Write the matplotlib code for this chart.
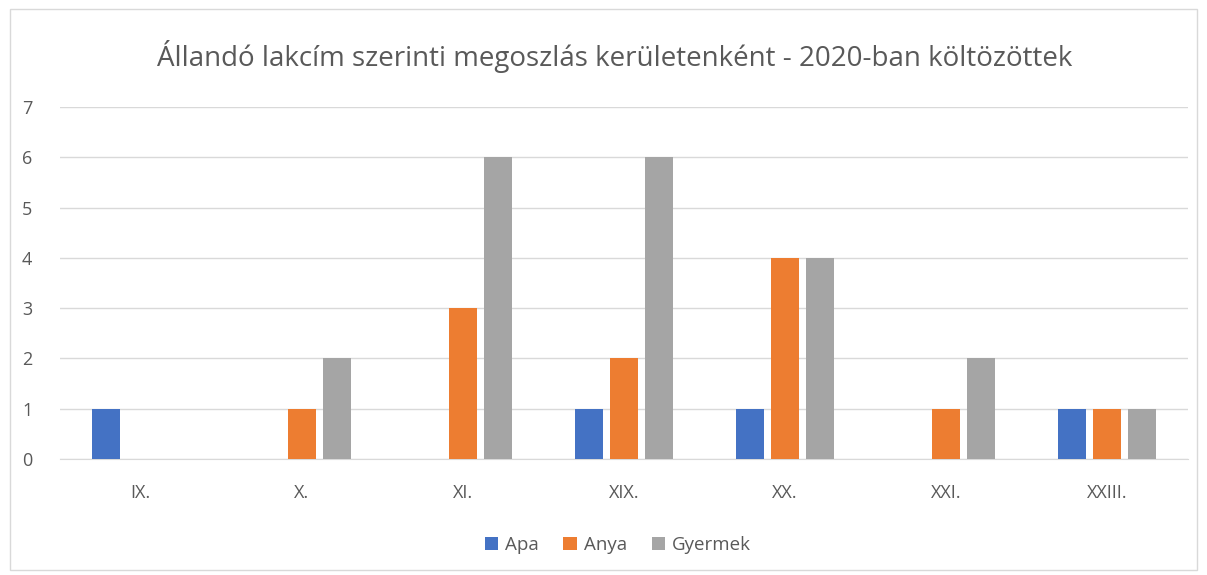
import matplotlib.pyplot as plt
import numpy as np

# datos del grafico
kerulet = ['IX.', 'X.', 'XI.', 'XIX.', 'XX.', 'XXI.', 'XXIII.']
apa = [1, 0, 0, 1, 1, 0, 1]
anya = [0, 1, 3, 2, 4, 1, 1]
gyermek = [0, 2, 6, 6, 4, 2, 1]
series = ['Apa', 'Anya', 'Gyermek']
colores = ['#4472C4', '#ED7D31', '#A5A5A5']

plt.rcParams['font.family'] = ['Open Sans', 'DejaVu Sans']

fig = plt.figure(figsize=(12.07, 5.75), dpi=100)
# marco del grafico
fig.patches.append(plt.Rectangle((0.008, 0.008), 0.984, 0.976, transform=fig.transFigure,
                                 fill=False, edgecolor='#D9D9D9', linewidth=1))
ax = fig.add_axes([0.0497, 0.2017, 0.9343, 0.6123])

x = np.arange(len(kerulet))
ancho = 0.174
paso = 0.217
for i, (vals, nombre, col) in enumerate(zip([apa, anya, gyermek], series, colores)):
    ax.bar(x + (i - 1) * paso, vals, width=ancho, color=col, label=nombre, zorder=3)

ax.set_xlim(-0.5, len(kerulet) - 0.5)
ax.set_ylim(0, 7)
ax.set_yticks(range(8))
ax.set_xticks(x)
ax.set_xticklabels(kerulet)
ax.grid(axis='y', color='#D9D9D9', linewidth=1, zorder=0)
for s in ['top', 'right', 'left']:
    ax.spines[s].set_visible(False)
ax.spines['bottom'].set_color('#D9D9D9')
ax.tick_params(axis='both', length=0, labelsize=13, colors='#595959', pad=18)
ax.tick_params(axis='y', pad=20)

fig.text(0.509, 0.902, 'Állandó lakcím szerinti megoszlás kerületenként - 2020-ban költözöttek',
         ha='center', va='center', fontsize=20, color='#595959')

fig.legend(loc='center', bbox_to_anchor=(0.512, 0.052), ncol=3, frameon=False,
           fontsize=13.5, handlelength=0.7, handleheight=0.7, handletextpad=0.4,
           columnspacing=1.3, labelcolor='#595959')

fig.savefig('out.png', dpi=100)
